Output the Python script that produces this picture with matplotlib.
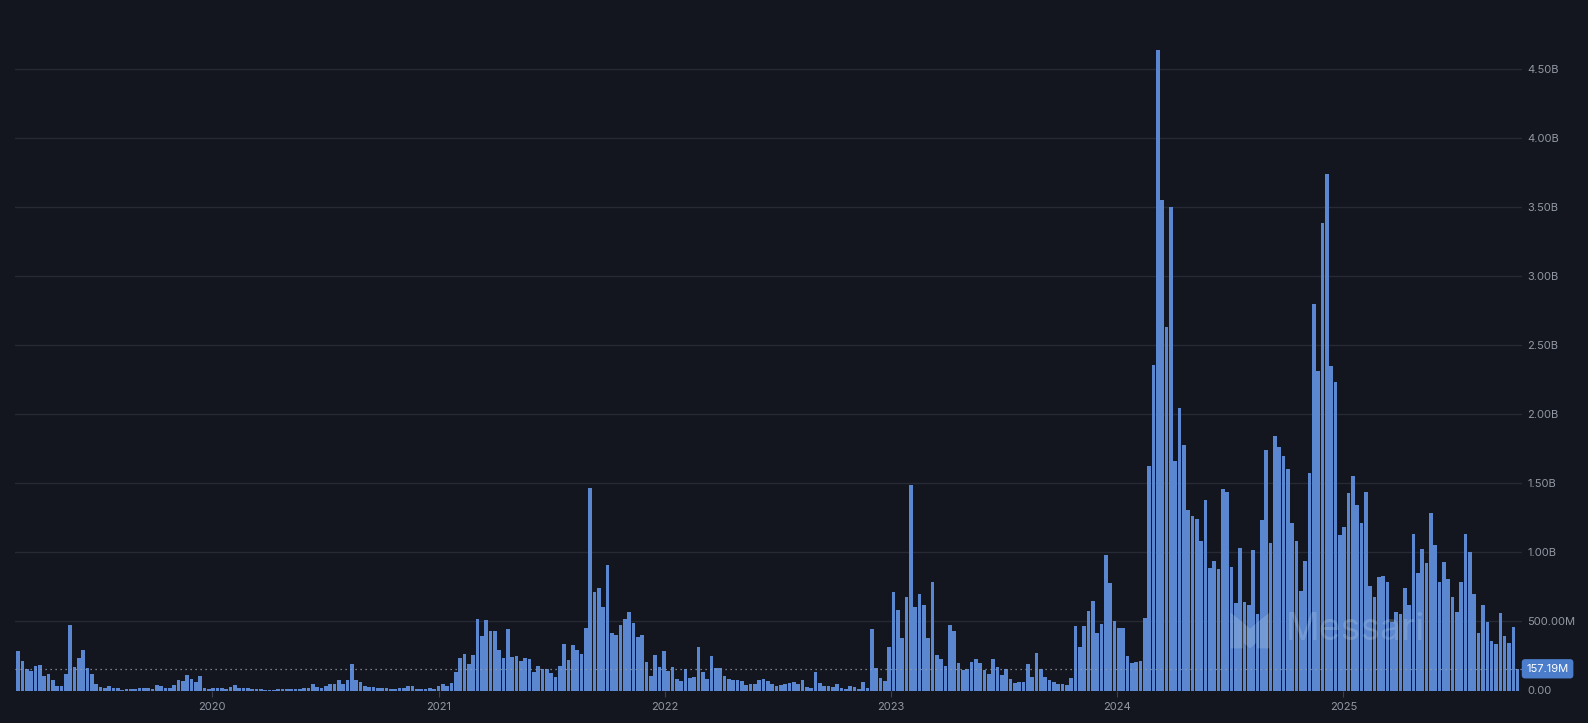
import matplotlib
matplotlib.use("Agg")
import matplotlib.pyplot as plt
import matplotlib.dates as mdates
from matplotlib.patches import Polygon
from matplotlib.ticker import FuncFormatter
import numpy as np
import pandas as pd

# ---- data (weekly volume, millions USD) ----
week_start = "2019-02-18"
vol_2019 = [286, 214, 154, 144, 180, 185, 106, 120, 77, 34,
            30, 120, 473, 170, 233, 293, 166, 120, 46, 24,
            19, 34, 19, 19, 7, 12, 11, 13, 17, 16,
            18, 10, 38, 29, 17, 16, 38, 77, 70, 115,
            84, 65, 106, 19, 12, 19, 18, 19, 12, 28,
            38]
vol_2020 = [19, 17, 16, 10, 9, 10, 5, 6, 5, 12,
            11, 12, 14, 13, 14, 17, 17, 48, 26, 19,
            29, 48, 46, 77, 48, 77, 192, 77, 60, 34,
            26, 26, 19, 19, 17, 12, 12, 19, 17, 34,
            34, 12, 14, 14, 17, 12, 34, 45, 36, 56]
vol_2021 = [135, 232, 263, 191, 256, 517, 396, 507, 430, 430,
            292, 232, 442, 242, 249, 213, 232, 227, 135, 176,
            155, 159, 128, 97, 176, 336, 220, 328, 292, 263,
            452, 1463, 710, 741, 606, 906, 415, 401, 473, 517,
            572, 488, 389, 401, 205, 104, 256, 169, 285]
vol_2022 = [141, 167, 83, 71, 155, 90, 98, 315, 136, 83,
            249, 160, 163, 105, 83, 78, 76, 66, 40, 47,
            47, 76, 86, 71, 47, 33, 40, 49, 57, 61,
            49, 78, 25, 18, 134, 54, 33, 33, 25, 47,
            18, 11, 33, 25, 11, 61]
vol_2023 = [17, 444, 162, 89, 68, 316, 712, 582, 379, 676,
            1488, 606, 698, 618, 379, 785, 256, 227, 176, 473,
            430, 198, 147, 155, 205, 227, 198, 147, 118, 227,
            169, 111, 159, 82, 53, 60, 60, 191, 97, 270,
            155, 97, 75, 60, 50, 48, 39, 94]
vol_2024 = [464, 312, 470, 573, 651, 415, 479, 979, 776, 500,
            455, 455, 251, 200, 209, 215, 524, 1624, 2357, 4639,
            3554, 2630, 3500, 1660, 2045, 1776, 1306, 1260, 1245, 1085,
            1377, 886, 939, 881, 1457, 1437, 893, 630, 1031, 643,
            618, 1019, 555, 1232, 1745, 1069, 1846, 1765, 1700, 1607,
            1214, 1081, 723, 939, 1577, 2798, 2310, 3382, 3743, 2347,
            2234]
vol_2025 = [1124, 1186, 1432, 1550, 1343, 1215, 1437, 756, 679, 824,
            828, 785, 497, 565, 553, 741, 618, 1133, 850, 1024,
            923, 1282, 1053, 785, 930, 807, 676, 568, 785, 1133,
            1002, 698, 415, 616, 495, 357, 336, 560, 396, 343,
            459, 157.19]

volumes_m = vol_2019 + vol_2020 + vol_2021 + vol_2022 + vol_2023 + vol_2024 + vol_2025
values = np.array(volumes_m, dtype=float) * 1e6
weeks = pd.date_range(week_start, periods=len(values), freq="7D")
last_value = values[-1]

y_ticks = np.arange(0, 4.51e9, 0.5e9)
year_ticks = [pd.Timestamp(f"{y}-01-01") for y in range(2020, 2026)]

# ---- style ----
BG = "#13161e"
BAR = "#5a87cf"
GRID = "#262a34"
TXT = "#9298a3"

plt.rcParams["font.family"] = ["Inter", "DejaVu Sans"]

fig = plt.figure(figsize=(15.88, 7.23), dpi=100, facecolor=BG)
W, H = 1588, 723
ax = fig.add_axes([15 / W, (H - 690.5) / H, (1522 - 15) / W, 690.5 / H])
ax.set_facecolor(BG)

centers = weeks + pd.Timedelta(hours=84)
ax.bar(centers, values, width=5.9, color=BAR, linewidth=0, zorder=2)

ax.set_ylim(0, 5.0e9)
ax.set_xlim(weeks[0] - pd.Timedelta(days=1.5), weeks[-1] + pd.Timedelta(days=10.5))

ax.set_yticks(y_ticks)
def fmt(v, _):
    if v == 0:
        return "0.00"
    if v >= 1e9:
        return f"{v/1e9:.2f}B"
    return f"{v/1e6:.2f}M"
ax.yaxis.set_major_formatter(FuncFormatter(fmt))
ax.yaxis.tick_right()
ax.tick_params(axis="y", length=0, pad=4, labelsize=8, labelcolor=TXT)
ax.grid(axis="y", color=GRID, linewidth=1, zorder=0)
ax.set_axisbelow(True)

ax.set_xticks(year_ticks)
ax.xaxis.set_major_formatter(mdates.DateFormatter("%Y"))
ax.tick_params(axis="x", length=4, width=0.8, color="#3c414c", pad=4,
               labelsize=8, labelcolor=TXT)

for s in ax.spines.values():
    s.set_visible(False)

# last-value dotted line + label
ax.axhline(last_value, color="#9aa0aa", linestyle=(0, (1, 3)), linewidth=0.9, zorder=3)
ax.annotate(fmt(last_value, None), xy=(1.0, last_value),
            xycoords=("axes fraction", "data"), xytext=(3.2, 0),
            textcoords="offset points", va="center", ha="left",
            fontsize=8, color="white", zorder=6,
            bbox=dict(boxstyle="round,pad=0.42,rounding_size=0.3",
                      fc="#4b7dcb", ec="none"))

# watermark
ax.text(0.843, 0.088, "Messari", transform=ax.transAxes, fontsize=27,
        color="white", alpha=0.16, va="center", ha="left", zorder=4)
lx0, ly0, lw, lh = 0.8065, 0.061, 0.026, 0.052
shapes = [
    [(0.0, 1.0), (0.32, 0.72), (0.32, 0.0), (0.0, 0.0)],
    [(0.34, 0.7), (0.5, 0.55), (0.66, 0.7), (0.66, 0.15), (0.5, 0.0), (0.34, 0.15)],
    [(1.0, 1.0), (0.68, 0.72), (0.68, 0.0), (1.0, 0.0)],
]
for shp in shapes:
    pts = [(lx0 + px * lw, ly0 + py * lh) for px, py in shp]
    ax.add_patch(Polygon(pts, closed=True, transform=ax.transAxes,
                         fc="white", alpha=0.16, ec="none", zorder=4))

fig.savefig("out.png", dpi=100, facecolor=BG)
